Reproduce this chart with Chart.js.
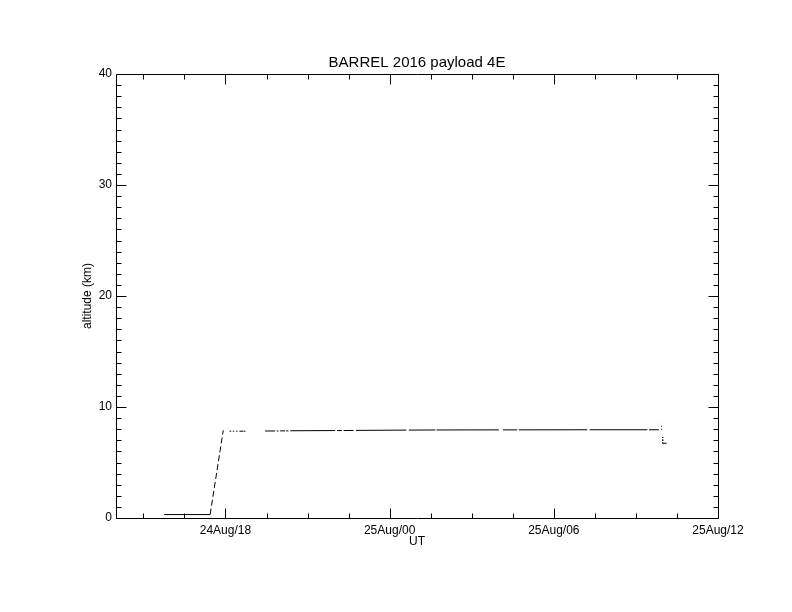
<!DOCTYPE html>
<html>
<head>
<meta charset="utf-8">
<title>BARREL 2016 payload 4E</title>
<script src="https://cdn.jsdelivr.net/npm/chart.js@4.4.1/dist/chart.umd.min.js"></script>
<style>
  html, body { margin: 0; padding: 0; background: #fff; }
  canvas { display: block; }
</style>
</head>
<body>
<canvas id="myChart" width="792" height="612"></canvas>
<script>
// time = hours after 24 Aug 00:00 UT, a null altitude marks a telemetry gap
const timeHours = [
  15.76, 17.44, 17.92, 17.92,
  18.15, 18.21, 18.21,
  18.27, 18.32, 18.32,
  18.39, 18.44, 18.44,
  18.51, 18.66, 18.66,
  18.68, 18.73, 18.73,
  19.45, 19.82, 19.82,
  19.88, 19.94, 19.94,
  20.00, 20.18, 20.18,
  20.22, 20.30, 20.30,
  20.37, 22.01, 22.01,
  22.08, 22.26, 22.26,
  22.32, 22.68, 22.68,
  22.77, 24.61, 24.61,
  24.70, 25.67, 25.67,
  25.71, 27.99, 27.99,
  28.14, 28.66, 28.66,
  28.72, 31.22, 31.22,
  31.31, 33.42, 33.42,
  33.48, 33.84, 33.84,
  33.94, 33.94, 33.94,
  33.98, 33.98, 34.12,
];
const altitudeKm = [
  0.31, 0.31, 7.90, null,
  7.82, 7.82, null,
  7.82, 7.82, null,
  7.82, 7.82, null,
  7.82, 7.82, null,
  7.82, 7.82, null,
  7.84, 7.84, null,
  7.84, 7.84, null,
  7.85, 7.85, null,
  7.85, 7.85, null,
  7.86, 7.88, null,
  7.88, 7.88, null,
  7.88, 7.89, null,
  7.89, 7.92, null,
  7.92, 7.93, null,
  7.93, 7.94, null,
  7.94, 7.94, null,
  7.94, 7.95, null,
  7.95, 7.95, null,
  7.95, 7.95, null,
  7.95, 8.50, null,
  7.30, 6.73, 6.73,
];

// axis ticks
const xTickHours = [15, 16.5, 18, 19.5, 21, 22.5, 24, 25.5, 27, 28.5, 30, 31.5, 33, 34.5, 36];
const xTickLabels = { 18: "24Aug/18", 24: "25Aug/00", 30: "25Aug/06", 36: "25Aug/12" };
const yTickKm = [];
for (let k = 0; k <= 40; k++) yTickKm.push(k);

Chart.defaults.font.family = '"Liberation Sans", Arial, sans-serif';
Chart.defaults.font.size = 12;
Chart.defaults.color = "#000";

// IDL style frame: box round the plot, ticks pointing inward on all four sides
const idlFrame = {
  id: "idlFrame",
  afterDraw(chart) {
    const { ctx, chartArea: a, scales: { x, y } } = chart;
    ctx.save();
    ctx.strokeStyle = "#000";
    ctx.lineWidth = 1;
    ctx.beginPath();
    ctx.rect(a.left + 0.5, a.top + 0.5, a.right - a.left, a.bottom - a.top);
    x.ticks.forEach((t) => {
      const px = Math.round(x.getPixelForValue(t.value)) + 0.5;
      const len = t.value % 6 === 0 ? 10 : 5;
      ctx.moveTo(px, a.bottom + 0.5);
      ctx.lineTo(px, a.bottom + 0.5 - len);
      ctx.moveTo(px, a.top + 0.5);
      ctx.lineTo(px, a.top + 0.5 + len);
    });
    y.ticks.forEach((t) => {
      const py = Math.round(y.getPixelForValue(t.value)) + 0.5;
      const len = t.value % 10 === 0 ? 10 : 5;
      ctx.moveTo(a.left + 0.5, py);
      ctx.lineTo(a.left + 0.5 + len, py);
      ctx.moveTo(a.right + 0.5, py);
      ctx.lineTo(a.right + 0.5 - len, py);
    });
    ctx.stroke();
    ctx.restore();
  },
};

let myChart = document.querySelector("#myChart").getContext("2d");

let altChart = new Chart(myChart, {
  type: "line",
  data: {
    datasets: [
      {
        label: "altitude",
        data: timeHours.map((t, i) => ({ x: t, y: altitudeKm[i] })),
        borderColor: "#000",
        borderWidth: 1,
        pointRadius: 0,
        tension: 0,
        spanGaps: false,
        segment: {
          // climb and the end-of-flight jumps are drawn broken, as in the original
          borderDash: (ctx) => {
            const dx = ctx.p1.parsed.x - ctx.p0.parsed.x;
            const dy = Math.abs(ctx.p1.parsed.y - ctx.p0.parsed.y);
            if (dy < 0.3) return undefined;
            return dx < 0.01 ? [1, 2] : [6, 3];
          },
        },
      },
    ],
  },
  options: {
    responsive: false,
    animation: false,
    devicePixelRatio: 1,
    layout: {
      padding: { top: 0, right: 74, bottom: 54, left: 0 },
    },
    plugins: {
      legend: { display: false },
      tooltip: { enabled: false },
      title: {
        display: true,
        text: "BARREL 2016 payload 4E",
        color: "#000",
        fullSize: false,
        font: { size: 15, weight: "normal" },
        padding: { top: 54, bottom: 2 },
      },
    },
    scales: {
      x: {
        type: "linear",
        min: 14,
        max: 36,
        grid: { display: false, drawTicks: false },
        border: { display: false },
        afterBuildTicks: (s) => {
          s.ticks = xTickHours.map((v) => ({ value: v }));
        },
        afterFit: (s) => {
          s.height = 40;
        },
        ticks: {
          autoSkip: false,
          maxRotation: 0,
          padding: 5,
          callback: (v) => xTickLabels[v] ?? "",
        },
        title: {
          display: true,
          text: "UT",
          padding: { top: 0, bottom: 9 },
        },
      },
      y: {
        min: 0,
        max: 40,
        grid: { display: false, drawTicks: false },
        border: { display: false },
        afterBuildTicks: (s) => {
          s.ticks = yTickKm.map((v) => ({ value: v }));
        },
        afterFit: (s) => {
          s.width = 116;
        },
        ticks: {
          autoSkip: false,
          padding: 4,
          callback: (v) => (v % 10 === 0 ? String(v) : ""),
        },
        title: {
          display: true,
          text: "altitude (km)",
          padding: { top: 80, bottom: 0 },
        },
      },
    },
  },
  plugins: [idlFrame],
});
</script>
</body>
</html>
